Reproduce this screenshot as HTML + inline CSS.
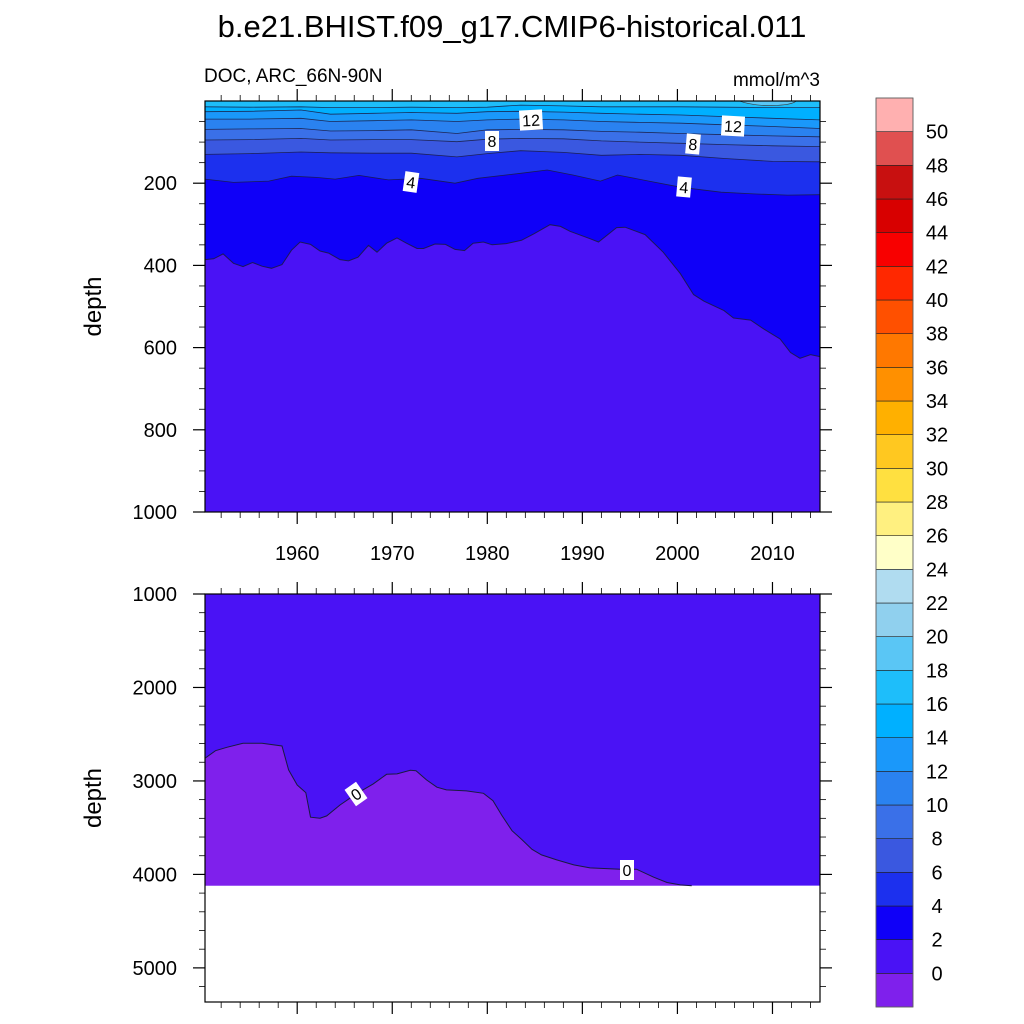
<!DOCTYPE html>
<html><head><meta charset="utf-8"><style>
body{margin:0;background:#fff;}
svg{display:block;font-family:"Liberation Sans",Arial,sans-serif;}
</style></head><body>
<svg id="c" width="1024" height="1024" viewBox="0 0 1024 1024" xmlns="http://www.w3.org/2000/svg">
<text x="512" y="37" font-size="31" text-anchor="middle">b.e21.BHIST.f09_g17.CMIP6-historical.011</text>
<text x="204" y="82" font-size="19">DOC, ARC_66N-90N</text>
<text x="820" y="86" font-size="19" text-anchor="end">mmol/m^3</text>
<g id="g"></g>
</svg>
<script>
// ---- data ----
const levels = [-2,0,2,4,6,8,10,12,14,16,18,20,22,24,26,28,30,32,34,36,38,40,42,44,46,48,50];
const bandColors = ["#7f20ec","#4a12f5","#0f00f8","#1c30ee","#3a58e0","#3a70e8","#2a82f0","#1a98fa","#00b0ff","#1ebefa","#5ac6f5","#90d0ee","#b0dcf0","#ffffc8","#fff080","#ffe040","#ffc820","#ffb000","#ff9000","#ff7800","#ff5000","#ff2800","#f80000","#d80000","#c81010","#e05050","#ffb0b0"];
const cbLabels = [0,2,4,6,8,10,12,14,16,18,20,22,24,26,28,30,32,34,36,38,40,42,44,46,48,50];

// top panel: 2-contour
const yrs2 = [1950.3,1951.2,1952.2,1953.3,1954.3,1955.3,1956.3,1957.3,1958.4,1959.4,1960.3,1961.4,1962.4,1963.3,1964.5,1965.4,1966.4,1967.5,1968.4,1969.4,1970.5,1971.5,1972.6,1973.3,1974.5,1975.6,1976.6,1977.6,1978.5,1979.6,1980.5,1982,1983.6,1984.9,1986.6,1987.7,1988.7,1990.8,1991.7,1993.6,1994.5,1996.6,1998.5,2000.3,2001.7,2002.8,2004.9,2005.9,2007.7,2009.1,2010.8,2011.9,2012.9,2014,2015];
const c2 = [386,384,372,395,403,393,402,407,398,363,343,349,365,370,386,389,380,351,368,346,333,346,359,359,348,349,361,364,346,343,350,347,339,323,301,305,317,335,343,308,307,325,368,420,471,487,510,528,533,555,579,612,626,617,622];
// 4-contour
const yrs4 = [1950.3,1953.3,1957,1959.4,1962,1964,1966.5,1969.6,1973,1976.6,1979,1983.5,1986.3,1989,1991.9,1993.7,1997,2000.4,2004.6,2008,2011.6,2015];
const c4 = [190,198,195,183,186,190,181,192,188,200,188,176,168,180,195,180,195,210,222,226,229,228];
// upper contours
const yrsU = [1950.3,1955,1960.4,1963.5,1968,1972,1976.8,1980,1983.5,1988,1992,1996,2000.4,2005,2010,2015];
const c6 = [130,128,124,126,127,127,136,128,121,125,132,130,132,140,147,148];
const c8 = [95,94,91,95,94,94,99,93,91,92,97,100,103,106,109,111];
const c10 = [69,68,67,73,72,70,79,70,69,70,74,76,79,82,85,87];
const c12 = [44,44,42,50,48,46,50,46,44,46,50,52,54,58,62,67];
const c14 = [26,25,22,32,30,28,30,26,25,27,30,32,34,38,42,46];
const c16 = [14,15,14,16,16,15,16,15,10,12,14,14,14,15,16,16];
// bottom panel: 0-contour
const yrs0 = [1950.3,1951.4,1952.6,1954.3,1956.3,1958.4,1959.1,1960,1960.9,1961.4,1962.4,1963.1,1964.5,1966.3,1968,1969.4,1970.5,1971.9,1972.5,1973.6,1974.7,1975.7,1977.8,1979.6,1980.6,1981.5,1982.6,1983.6,1984.7,1985.7,1987.3,1989.1,1990.8,1994,1995.7,1997.5,1998.9,2000.3,2001.5];
const c0 = [2757,2676,2640,2597,2597,2626,2882,3043,3125,3388,3399,3374,3257,3132,3032,2929,2925,2886,2890,2989,3067,3096,3107,3132,3211,3364,3532,3624,3731,3791,3845,3898,3930,3944,3944,4030,4087,4112,4122];
const bottomDepth = 4120;

// ---- axes ----
const X0=205,X1=820,YR0=1950.3,YR1=2015;
const xs = y => X0+(y-YR0)*(X1-X0)/(YR1-YR0);
const T={top:101,bot:512,d0:0,d1:1000};
const B={top:594,bot:1002,d0:1000,d1:5365};
const ys = (p,d)=>p.top+(d-p.d0)*(p.bot-p.top)/(p.d1-p.d0);

const NS="http://www.w3.org/2000/svg";
const G=document.getElementById('g');
function el(tag,attrs,parent){const e=document.createElementNS(NS,tag);for(const k in attrs)e.setAttribute(k,attrs[k]);(parent||G).appendChild(e);return e;}
function pts(p,yrs,vals){return yrs.map((y,i)=>xs(y).toFixed(1)+","+ys(p,vals[i]).toFixed(1));}

function panel(p,name){
  const grp=el('g',{});
  
  
  const cp=el('clipPath',{id:'clip-'+name},grp);
  el('rect',{x:X0,y:p.top,width:X1-X0,height:p.bot-p.top},cp);
  const inner=el('g',{'clip-path':'url(#clip-'+name+')'},grp);
  return {grp,inner};
}

// top panel
const tp=panel(T,'top-panel');
let bg=el('rect',{x:X0,y:T.top,width:X1-X0,height:T.bot-T.top,fill:bandColors[1]},tp.inner);


const tops=[[yrs2,c2,2],[yrs4,c4,3],[yrsU,c6,4],[yrsU,c8,5],[yrsU,c10,6],[yrsU,c12,7],[yrsU,c14,8],[yrsU,c16,9]];
tops.forEach(([yr,v,ci])=>{
  const P=pts(T,yr,v);
  const poly=el('polygon',{points:X0-5+","+(T.top-5)+" "+(X0-5)+","+ys(T,v[0])+" "+P.join(" ")+" "+(X1+5)+","+ys(T,v[v.length-1])+" "+(X1+5)+","+(T.top-5),fill:bandColors[ci]},tp.inner);
  
  
});
// small 18 blob
const blob=el('path',{d:`M${xs(2006.5)},${T.top} Q${xs(2008)},${ys(T,12)} ${xs(2010)},${ys(T,11)} Q${xs(2012)},${ys(T,10)} ${xs(2012.5)},${T.top} Z`,fill:bandColors[10],stroke:'#333','stroke-width':0.6},tp.inner);


tops.forEach(([yr,v,ci])=>{
  const l=el('polyline',{points:pts(T,yr,v).join(" "),fill:'none',stroke:'#1a1a40','stroke-width':ci==2?1:0.8,'stroke-opacity':0.85},tp.inner);
  
  
});

// bottom panel
const bp=panel(B,'bottom-panel');
bg=el('rect',{x:X0,y:B.top,width:X1-X0,height:ys(B,bottomDepth)-B.top,fill:bandColors[1]},bp.inner);


const P0=pts(B,yrs0,c0);
const neg=el('polygon',{points:(X0-5)+","+ys(B,bottomDepth)+" "+(X0-5)+","+ys(B,c0[0])+" "+P0.join(" ")+" "+xs(yrs0[yrs0.length-1])+","+ys(B,bottomDepth),fill:bandColors[0]},bp.inner);


const l0=el('polyline',{points:P0.join(" "),fill:'none',stroke:'#1a1a40','stroke-width':1},bp.inner);



// contour labels
function clabel(x,y,t,rot,name){
  const g=el('g',{transform:`translate(${x},${y}) rotate(${rot})`});
  
  
  const w=t.length*9+5;
  el('rect',{x:-w/2,y:-10,width:w,height:20,fill:'#fff'},g);
  el('text',{x:0,y:6,'font-size':16,'text-anchor':'middle'},g).textContent=t;
}
clabel(531,120,'12',-3,'label-12a');clabel(492,141,'8',0,'label-8a');clabel(411,182,'4',8,'label-4a');
clabel(733,126,'12',3,'label-12b');clabel(693,144,'8',5,'label-8b');clabel(684,187,'4',5,'label-4b');
clabel(356,794,'0',-35,'label-0a');clabel(627,870,'0',0,'label-0b');

// frames & ticks
function frame(p,name,dMaj,dMin,xlabels){
  const f=el('rect',{x:X0,y:p.top,width:X1-X0,height:p.bot-p.top,fill:'none',stroke:'#000','stroke-width':1.2});
  
  
  for(let d=Math.ceil(p.d0/dMin)*dMin; d<=p.d1; d+=dMin){
    const y=ys(p,d), maj=(d%dMaj===0), len=maj?12:6;
    if(d===0) continue;
    el('line',{x1:X0-len,y1:y,x2:X0,y2:y,stroke:'#000','stroke-width':maj?1.2:0.8});
    el('line',{x1:X1,y1:y,x2:X1+len,y2:y,stroke:'#000','stroke-width':maj?1.2:0.8});
    if(maj){const t=el('text',{x:X0-28,y:y+7,'font-size':20,'text-anchor':'end'});t.textContent=d;
      }
  }
  for(let yr=1952; yr<=2014; yr+=2){
    const x=xs(yr), maj=(yr%10===0), len=maj?12:6;
    el('line',{x1:x,y1:p.top-len,x2:x,y2:p.top,stroke:'#000','stroke-width':maj?1.2:0.8});
    el('line',{x1:x,y1:p.bot,x2:x,y2:p.bot+len,stroke:'#000','stroke-width':maj?1.2:0.8});
    if(maj&&xlabels){const t=el('text',{x:x,y:p.bot+48,'font-size':20,'text-anchor':'middle'});t.textContent=yr;
      }
  }
  const yt=el('text',{x:0,y:0,'font-size':24,'text-anchor':'middle',transform:`translate(101,${(p.top+p.bot)/2}) rotate(-90)`});
  yt.textContent='depth';
  
  
}
frame(T,'top-panel',200,50,true);
frame(B,'bottom-panel',1000,200,false);

// colorbar
const CB={x:876,w:37,top:98,bot:1007};
const bh=(CB.bot-CB.top)/bandColors.length;
bandColors.forEach((c,i)=>{
  const y=CB.bot-(i+1)*bh;
  const r=el('rect',{x:CB.x,y:y,width:CB.w,height:bh,fill:c,stroke:'#222','stroke-width':0.6});
  
  
});
el('rect',{x:CB.x,y:CB.top,width:CB.w,height:CB.bot-CB.top,fill:'none',stroke:'#666','stroke-width':0.8});
cbLabels.forEach((v,i)=>{
  const y=CB.bot-(i+1)*bh;
  const t=el('text',{x:937,y:y+7,'font-size':20,'text-anchor':'middle'});
  t.textContent=v;
  
  
});
</script>
</body></html>
